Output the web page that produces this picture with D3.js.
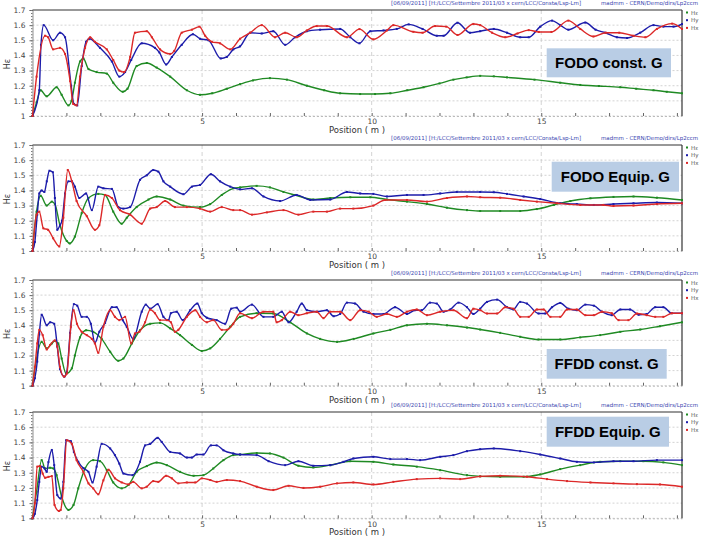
<!DOCTYPE html>
<html><head><meta charset="utf-8">
<script src="https://cdn.jsdelivr.net/npm/d3@7"></script>
<style>body{margin:0;background:#fff}svg{display:block}</style>
</head><body>
<svg id="c" width="720" height="540"></svg>
<script>
// ---------- data ----------
const panelTitles = ["FODO const. G", "FODO Equip. G", "FFDD const. G", "FFDD Equip. G"];
const yTicks = [1, 1.1, 1.2, 1.3, 1.4, 1.5, 1.6, 1.7];
const xLabelTicks = [5, 10, 15];
const seriesNames = ["Hε", "Hy", "Hx"];   // green, blue, red
const headerLeft = "[06/09/2011] [H:/LCC/Settembre 2011/03 x cern/LCC/Consta/Lsp-Lm]";
const headerRight = "madmm - CERN/Demo/dirs/Lp2ccm";

const fodoConstBlue = [[0,1.0],[0.2,1.17],[0.25,1.47],[0.33,1.60],[0.61,1.50],[0.81,1.55],[0.96,1.52],[1.14,1.20],[1.22,1.08],[1.32,1.07],[1.45,1.33],[1.58,1.49],[1.68,1.51],[1.99,1.45],[2.34,1.36],[2.56,1.26],[2.73,1.29],[2.91,1.37],[3.22,1.48],[3.61,1.45],[3.74,1.42],[3.94,1.34],[4.11,1.39],[4.40,1.47],[4.73,1.54],[4.94,1.51],[5.19,1.50],[5.55,1.38],[5.73,1.39],[5.92,1.44],[6.12,1.46],[6.42,1.55],[6.76,1.545],[7.1,1.56],[7.45,1.47],[7.74,1.52],[8.09,1.56],[8.48,1.57],[9.07,1.575],[9.37,1.52],[9.64,1.48],[9.96,1.56],[10.35,1.565],[10.74,1.575],[11.09,1.605],[11.5,1.575],[11.92,1.53],[12.12,1.53],[12.53,1.616],[12.9,1.55],[13.2,1.56],[13.6,1.575],[13.99,1.55],[14.38,1.52],[14.63,1.52],[14.97,1.59],[15.32,1.63],[15.56,1.60],[15.8,1.57],[16.3,1.617],[16.6,1.57],[16.89,1.55],[17.23,1.52],[17.53,1.515],[17.92,1.55],[18.31,1.60],[18.6,1.59],[18.9,1.59],[19.15,1.607]];
const fodoConstRed = [[0,1.0],[0.12,1.26],[0.37,1.53],[0.46,1.52],[0.61,1.44],[0.81,1.45],[0.96,1.41],[1.11,1.23],[1.2,1.08],[1.3,1.07],[1.4,1.26],[1.55,1.45],[1.7,1.52],[1.84,1.49],[2.19,1.44],[2.38,1.37],[2.56,1.30],[2.7,1.29],[2.88,1.39],[3.02,1.55],[3.37,1.56],[3.52,1.52],[3.76,1.44],[4.06,1.41],[4.18,1.43],[4.40,1.55],[4.70,1.57],[4.92,1.59],[5.09,1.53],[5.29,1.49],[5.53,1.48],[5.83,1.44],[6.12,1.51],[6.42,1.55],[6.76,1.60],[7.15,1.52],[7.45,1.55],[7.79,1.52],[8.09,1.565],[8.38,1.594],[8.68,1.594],[9.27,1.52],[9.64,1.574],[10.05,1.506],[10.45,1.565],[10.64,1.60],[11.23,1.556],[11.5,1.55],[11.87,1.594],[12.2,1.59],[12.53,1.535],[13.0,1.608],[13.2,1.60],[13.55,1.55],[13.94,1.52],[14.3,1.545],[14.63,1.567],[14.93,1.555],[15.3,1.555],[15.8,1.63],[16.15,1.575],[16.54,1.525],[16.9,1.55],[17.3,1.55],[17.72,1.53],[18.07,1.52],[18.41,1.575],[18.86,1.61],[19.15,1.575]];
const fodoConstGreen = [[0,1.0],[0.12,1.09],[0.24,1.17],[0.42,1.13],[0.71,1.19],[0.86,1.14],[1.06,1.07],[1.15,1.10],[1.25,1.22],[1.40,1.36],[1.50,1.38],[1.65,1.31],[1.89,1.29],[2.19,1.28],[2.38,1.22],[2.66,1.16],[2.8,1.18],[3.07,1.33],[3.37,1.35],[3.66,1.32],[4.06,1.26],[4.55,1.17],[4.94,1.14],[5.3,1.15],[5.73,1.18],[6.12,1.21],[6.5,1.235],[7.0,1.25],[7.5,1.24],[8.09,1.20],[8.6,1.17],[9.07,1.15],[9.66,1.145],[10.1,1.145],[10.55,1.15],[11.05,1.17],[11.53,1.19],[12.0,1.215],[12.41,1.24],[12.8,1.255],[13.2,1.265],[13.6,1.262],[13.99,1.255],[14.8,1.24],[15.56,1.22],[16.15,1.205],[16.7,1.198],[17.33,1.19],[17.8,1.18],[18.31,1.17],[18.7,1.16],[19.15,1.15]];

const fodoEquipBlue = [[0,1.0],[0.07,1.06],[0.14,1.24],[0.2,1.38],[0.27,1.40],[0.35,1.39],[0.42,1.46],[0.5,1.53],[0.6,1.52],[0.66,1.35],[0.73,1.14],[0.81,1.17],[0.87,1.20],[0.96,1.38],[1.06,1.46],[1.16,1.46],[1.25,1.425],[1.38,1.35],[1.58,1.38],[1.75,1.27],[1.94,1.425],[2.09,1.414],[2.34,1.41],[2.53,1.29],[2.68,1.28],[2.88,1.29],[3.17,1.47],[3.37,1.50],[3.56,1.535],[3.71,1.524],[3.86,1.46],[4.06,1.425],[4.45,1.375],[4.70,1.425],[4.94,1.436],[5.26,1.507],[5.53,1.46],[5.83,1.425],[6.12,1.407],[6.47,1.414],[6.81,1.36],[7.3,1.33],[7.79,1.37],[8.19,1.337],[8.78,1.34],[9.27,1.39],[9.66,1.38],[10.05,1.377],[10.45,1.36],[11.04,1.37],[11.53,1.37],[12.02,1.38],[12.51,1.39],[13.2,1.39],[13.6,1.388],[13.99,1.377],[14.48,1.36],[14.97,1.343],[15.56,1.315],[16.05,1.31],[16.55,1.304],[17.13,1.31],[17.72,1.315],[18.41,1.32],[19.15,1.315]];
const fodoEquipRed = [[0,1.0],[0.12,1.24],[0.2,1.26],[0.32,1.15],[0.46,1.14],[0.61,1.084],[0.79,1.03],[0.91,1.22],[1.04,1.535],[1.16,1.46],[1.30,1.33],[1.6,1.23],[1.84,1.14],[1.97,1.17],[2.14,1.37],[2.34,1.35],[2.58,1.27],[2.88,1.24],[3.22,1.18],[3.47,1.28],[3.66,1.29],[3.91,1.33],[4.2,1.29],[4.55,1.29],[4.94,1.28],[5.24,1.26],[5.58,1.29],[5.92,1.27],[6.12,1.27],[6.47,1.24],[6.91,1.255],[7.4,1.27],[7.84,1.24],[8.28,1.26],[8.68,1.26],[9.07,1.28],[9.46,1.28],[10.05,1.30],[10.4,1.337],[11.04,1.337],[11.63,1.326],[12.22,1.35],[12.81,1.36],[13.2,1.355],[13.79,1.352],[14.38,1.337],[14.87,1.326],[15.46,1.315],[16.15,1.304],[16.83,1.304],[17.13,1.297],[17.72,1.30],[18.41,1.31],[19.15,1.315]];
const fodoEquipGreen = [[0,1.0],[0.12,1.26],[0.24,1.365],[0.42,1.30],[0.57,1.326],[0.66,1.31],[0.81,1.17],[1.01,1.066],[1.1,1.05],[1.25,1.095],[1.45,1.25],[1.65,1.35],[1.94,1.377],[2.14,1.37],[2.38,1.26],[2.63,1.18],[2.78,1.22],[3.07,1.29],[3.42,1.34],[3.66,1.36],[4.06,1.34],[4.45,1.30],[4.94,1.29],[5.24,1.31],[5.58,1.37],[5.92,1.414],[6.12,1.42],[6.61,1.43],[7.0,1.42],[7.4,1.39],[7.74,1.37],[8.28,1.34],[8.78,1.35],[9.37,1.355],[9.96,1.355],[10.45,1.34],[11.04,1.326],[11.63,1.31],[12.22,1.286],[12.81,1.27],[13.2,1.264],[13.79,1.264],[14.38,1.264],[14.87,1.277],[15.37,1.304],[15.86,1.33],[16.45,1.348],[17.13,1.357],[17.72,1.36],[18.41,1.352],[19.15,1.337]];

const ffddConstBlue = [[0,1.0],[0.07,1.05],[0.14,1.16],[0.2,1.34],[0.27,1.47],[0.42,1.40],[0.52,1.42],[0.64,1.41],[0.73,1.26],[0.81,1.11],[0.94,1.06],[1.01,1.09],[1.11,1.35],[1.22,1.54],[1.32,1.53],[1.45,1.456],[1.6,1.456],[1.72,1.41],[1.84,1.284],[1.97,1.357],[2.14,1.416],[2.34,1.52],[2.48,1.52],[2.66,1.434],[2.78,1.39],[2.97,1.31],[3.22,1.49],[3.34,1.537],[3.47,1.51],[3.69,1.54],[3.86,1.456],[4.01,1.434],[4.08,1.48],[4.25,1.49],[4.43,1.434],[4.65,1.50],[4.86,1.544],[4.99,1.48],[5.14,1.45],[5.43,1.434],[5.68,1.41],[5.86,1.51],[6.02,1.517],[6.12,1.49],[6.47,1.537],[6.81,1.456],[7.1,1.456],[7.35,1.49],[7.55,1.42],[7.79,1.49],[7.94,1.544],[8.09,1.50],[8.38,1.49],[8.68,1.50],[8.88,1.46],[9.07,1.475],[9.27,1.55],[9.51,1.544],[9.76,1.49],[10.05,1.475],[10.35,1.475],[10.69,1.52],[11.04,1.475],[11.28,1.50],[11.48,1.50],[11.72,1.55],[11.92,1.544],[12.12,1.49],[12.32,1.505],[12.56,1.55],[12.81,1.52],[13.0,1.475],[13.2,1.51],[13.4,1.555],[13.7,1.57],[13.99,1.52],[14.18,1.505],[14.38,1.555],[14.58,1.544],[14.92,1.478],[15.12,1.478],[15.32,1.52],[15.56,1.548],[15.8,1.51],[16.05,1.50],[16.3,1.537],[16.55,1.53],[16.79,1.49],[17.08,1.467],[17.33,1.505],[17.62,1.505],[17.87,1.47],[18.11,1.475],[18.36,1.52],[18.6,1.52],[18.85,1.48],[19.15,1.48]];
const ffddConstRed = [[0,1.0],[0.07,1.125],[0.14,1.28],[0.2,1.37],[0.3,1.335],[0.42,1.24],[0.52,1.27],[0.66,1.30],[0.73,1.26],[0.81,1.125],[0.93,1.06],[1.01,1.08],[1.13,1.39],[1.21,1.50],[1.31,1.41],[1.45,1.357],[1.6,1.335],[1.75,1.31],[1.84,1.28],[1.94,1.218],[2.09,1.39],[2.29,1.50],[2.43,1.456],[2.56,1.434],[2.73,1.456],[2.91,1.28],[3.02,1.346],[3.15,1.357],[3.32,1.42],[3.47,1.504],[3.61,1.48],[3.76,1.434],[3.96,1.434],[4.08,1.42],[4.2,1.357],[4.3,1.37],[4.55,1.456],[4.8,1.50],[4.94,1.456],[5.14,1.42],[5.33,1.434],[5.58,1.37],[5.73,1.37],[5.92,1.41],[6.12,1.48],[6.47,1.447],[6.81,1.49],[7.1,1.49],[7.2,1.42],[7.35,1.434],[7.6,1.49],[7.84,1.467],[8.09,1.48],[8.38,1.49],[8.58,1.447],[8.78,1.49],[9.07,1.49],[9.37,1.434],[9.66,1.50],[9.91,1.49],[10.15,1.456],[10.45,1.475],[10.74,1.456],[11.04,1.49],[11.33,1.505],[11.63,1.467],[12.02,1.49],[12.41,1.50],[12.81,1.447],[13.0,1.51],[13.2,1.50],[13.4,1.478],[13.7,1.478],[13.94,1.52],[14.18,1.51],[14.38,1.456],[14.63,1.456],[14.87,1.505],[15.07,1.505],[15.27,1.456],[15.56,1.456],[15.76,1.505],[16.05,1.505],[16.3,1.467],[16.55,1.467],[16.79,1.49],[17.08,1.48],[17.28,1.434],[17.57,1.434],[17.82,1.478],[18.11,1.467],[18.36,1.456],[18.6,1.456],[18.85,1.48],[19.15,1.48]];
const ffddConstGreen = [[0,1.0],[0.12,1.18],[0.27,1.29],[0.42,1.247],[0.57,1.28],[0.66,1.297],[0.76,1.28],[0.86,1.18],[0.99,1.08],[1.16,1.115],[1.25,1.20],[1.4,1.32],[1.58,1.367],[1.79,1.357],[2.04,1.31],[2.29,1.225],[2.53,1.165],[2.68,1.18],[2.93,1.28],[3.17,1.367],[3.47,1.41],[3.76,1.416],[4.06,1.38],[4.35,1.335],[4.7,1.27],[4.99,1.23],[5.24,1.247],[5.53,1.31],[5.83,1.39],[6.12,1.456],[6.61,1.48],[7.1,1.478],[7.6,1.42],[8.09,1.346],[8.48,1.31],[8.98,1.29],[9.47,1.31],[10.05,1.346],[10.55,1.37],[11.04,1.40],[11.63,1.41],[12.22,1.40],[12.81,1.385],[13.2,1.372],[13.79,1.35],[14.38,1.324],[14.92,1.306],[15.56,1.306],[16.15,1.32],[16.74,1.335],[17.33,1.357],[17.92,1.372],[18.5,1.394],[19.15,1.42]];

const ffddEquipBlue = [[0,1.0],[0.07,1.03],[0.14,1.12],[0.2,1.24],[0.27,1.34],[0.35,1.33],[0.42,1.306],[0.47,1.37],[0.57,1.45],[0.64,1.35],[0.73,1.153],[0.83,1.13],[0.91,1.24],[0.99,1.514],[1.13,1.508],[1.22,1.437],[1.35,1.372],[1.5,1.33],[1.65,1.306],[1.77,1.236],[1.89,1.34],[2.04,1.49],[2.29,1.46],[2.43,1.416],[2.56,1.36],[2.68,1.295],[2.95,1.284],[3.17,1.372],[3.32,1.48],[3.47,1.49],[3.69,1.53],[3.81,1.503],[4.06,1.437],[4.35,1.427],[4.55,1.40],[4.7,1.40],[4.84,1.42],[5.04,1.42],[5.26,1.48],[5.43,1.48],[5.63,1.448],[5.92,1.427],[6.12,1.42],[6.61,1.416],[6.96,1.376],[7.45,1.35],[7.84,1.376],[8.28,1.346],[8.78,1.35],[9.17,1.372],[9.46,1.394],[10.05,1.405],[10.55,1.39],[11.04,1.39],[11.43,1.383],[12.02,1.405],[12.41,1.416],[12.81,1.442],[13.2,1.455],[13.6,1.46],[14.38,1.442],[14.97,1.42],[15.56,1.394],[16.05,1.372],[16.55,1.368],[17.13,1.376],[17.72,1.376],[18.41,1.383],[19.15,1.383]];
const ffddEquipRed = [[0,1.0],[0.07,1.10],[0.14,1.34],[0.22,1.344],[0.3,1.295],[0.37,1.267],[0.47,1.273],[0.57,1.278],[0.65,1.088],[0.78,1.048],[0.83,1.055],[0.91,1.197],[1.01,1.514],[1.16,1.49],[1.3,1.383],[1.5,1.306],[1.65,1.23],[1.79,1.197],[1.94,1.158],[2.09,1.25],[2.24,1.32],[2.43,1.263],[2.63,1.236],[2.83,1.223],[2.97,1.24],[3.22,1.197],[3.37,1.208],[3.56,1.245],[3.71,1.24],[3.94,1.28],[4.11,1.263],[4.3,1.23],[4.55,1.236],[4.8,1.236],[4.99,1.263],[5.24,1.252],[5.43,1.24],[5.73,1.252],[6.12,1.245],[6.61,1.208],[7.1,1.186],[7.55,1.214],[7.99,1.20],[8.48,1.208],[8.98,1.23],[9.46,1.236],[10.05,1.223],[10.64,1.24],[11.33,1.258],[12.02,1.263],[12.61,1.258],[13.2,1.276],[13.79,1.28],[14.58,1.274],[15.17,1.258],[15.76,1.245],[16.45,1.236],[17.13,1.23],[17.82,1.225],[18.5,1.223],[19.15,1.208]];
const ffddEquipGreen = [[0,1.0],[0.12,1.175],[0.27,1.383],[0.37,1.328],[0.52,1.333],[0.62,1.328],[0.71,1.284],[0.86,1.142],[1.06,1.055],[1.21,1.088],[1.35,1.197],[1.55,1.328],[1.79,1.383],[1.99,1.376],[2.19,1.317],[2.38,1.236],[2.63,1.197],[2.83,1.219],[3.07,1.306],[3.37,1.344],[3.66,1.367],[3.96,1.35],[4.35,1.306],[4.75,1.28],[5.04,1.284],[5.33,1.328],[5.63,1.383],[5.92,1.416],[6.12,1.42],[6.61,1.43],[7.0,1.427],[7.4,1.40],[7.84,1.346],[8.28,1.335],[8.78,1.35],[9.37,1.376],[10.05,1.372],[10.64,1.354],[11.33,1.34],[12.02,1.317],[12.81,1.284],[13.2,1.276],[13.79,1.274],[14.48,1.274],[14.97,1.289],[15.56,1.324],[16.15,1.35],[16.74,1.372],[17.33,1.376],[18.01,1.376],[18.6,1.368],[19.15,1.35]];

// ---------- layout / styles ----------
const panels = [
  {top: 10,  bottom: 116,   title: panelTitles[0], series: [fodoConstGreen, fodoConstBlue, fodoConstRed], box: [546.7, 48.3, 124.3, 29]},
  {top: 145, bottom: 251,   title: panelTitles[1], series: [fodoEquipGreen, fodoEquipBlue, fodoEquipRed], box: [551.7, 161.7, 127.3, 30]},
  {top: 280, bottom: 385.7, title: panelTitles[2], series: [ffddConstGreen, ffddConstBlue, ffddConstRed], box: [546.7, 349, 120, 29.7]},
  {top: 412, bottom: 518.3, title: panelTitles[3], series: [ffddEquipGreen, ffddEquipBlue, ffddEquipRed], box: [546.7, 416.7, 122.3, 30]}
];
const colors = ["#1f8a23", "#1c1caa", "#dc2828"];
const svg = d3.select("#c");
const x = d3.scaleLinear().domain([0, 19.15]).range([32.5, 682]);
const xIntTicks = d3.range(1, 20);

panels.forEach(p => {
  const g = svg.append("g");
  const y = d3.scaleLinear().domain([1, 1.7]).range([p.bottom, p.top]);

  // header text
  g.append("text").attr("x", 391).attr("y", p.top - 5).attr("font-size", 5.5)
    .attr("font-family", "DejaVu Sans, sans-serif").attr("fill", "#3a46b0").text(headerLeft);
  g.append("text").attr("x", 601).attr("y", p.top - 5).attr("font-size", 5.5)
    .attr("font-family", "DejaVu Sans, sans-serif").attr("fill", "#3a46b0").text(headerRight);

  // horizontal grid
  g.append("g").selectAll("line").data(yTicks.slice(0, 7)).join("line")
    .attr("x1", x(0)).attr("x2", x(19.15)).attr("y1", d => y(d)).attr("y2", d => y(d))
    .attr("stroke", "#c8c8c8").attr("stroke-width", 0.8).attr("stroke-dasharray", "2,2");
  // vertical grid
  g.append("g").selectAll("line").data(xLabelTicks).join("line")
    .attr("x1", d => x(d)).attr("x2", d => x(d)).attr("y1", p.top).attr("y2", p.bottom)
    .attr("stroke", "#c8c8c8").attr("stroke-width", 0.8).attr("stroke-dasharray", "4,3");

  // y axis
  const ya = g.append("g").attr("transform", `translate(${x(0)},0)`)
    .call(d3.axisLeft(y).tickValues(yTicks).tickSize(3).tickPadding(4)
      .tickFormat(d => d === 1 ? "1" : d3.format(".1f")(d)));
  ya.selectAll("text").attr("font-size", 7.5).attr("font-family", "DejaVu Sans, sans-serif").attr("fill", "#444");
  ya.selectAll("line").attr("stroke", "#666");
  ya.select(".domain").attr("stroke", "#777").attr("stroke-width", 0.8);
  const ym = g.append("g").attr("transform", `translate(${x(0)},0)`)
    .call(d3.axisLeft(y).ticks(35).tickSize(1.5).tickFormat(""));
  ym.select(".domain").remove();
  ym.selectAll("line").attr("stroke", "#777");

  // x axis
  const xa = g.append("g").attr("transform", `translate(0,${p.bottom})`)
    .call(d3.axisBottom(x).tickValues(xIntTicks).tickSizeInner(-3).tickSizeOuter(0).tickPadding(3)
      .tickFormat(d => xLabelTicks.includes(d) ? d : ""));
  xa.select(".domain").attr("stroke", "#bbb").attr("stroke-dasharray", "2,2");
  xa.selectAll("line").attr("stroke", "#666");
  xa.selectAll("text").attr("font-size", 7.5).attr("font-family", "DejaVu Sans, sans-serif").attr("fill", "#444");
  g.append("text").attr("x", 357).attr("y", p.bottom + 17).attr("text-anchor", "middle")
    .attr("font-size", 8.5).attr("font-family", "DejaVu Sans, sans-serif").attr("fill", "#333")
    .text("Position ( m )");

  // y label
  g.append("text").attr("transform", `translate(10,${(p.top + p.bottom) / 2 + 1}) rotate(-90)`)
    .attr("text-anchor", "middle").attr("font-size", 8).attr("font-family", "DejaVu Sans, sans-serif")
    .attr("fill", "#333").text("Hε");

  // frame top & right
  g.append("line").attr("x1", x(0)).attr("x2", x(19.15)).attr("y1", p.top).attr("y2", p.top)
    .attr("stroke", "#333").attr("stroke-width", 1.2);
  g.append("line").attr("x1", x(19.15)).attr("x2", x(19.15)).attr("y1", p.top).attr("y2", p.bottom)
    .attr("stroke", "#333").attr("stroke-width", 1.2);

  // series
  const line = d3.line().x(d => x(d[0])).y(d => y(d[1])).curve(d3.curveMonotoneX);
  p.series.forEach((s, i) => {
    g.append("path").datum(s).attr("d", line).attr("fill", "none")
      .attr("stroke", colors[i]).attr("stroke-width", 1.4);
    g.append("g").selectAll("rect").data(s).join("rect")
      .attr("x", d => x(d[0]) - 1).attr("y", d => y(d[1]) - 1).attr("width", 2).attr("height", 2)
      .attr("fill", colors[i]);
  });

  // legend
  const lg = g.append("g");
  seriesNames.forEach((n, i) => {
    const ly = p.top + 2.5 + i * 7.7;
    lg.append("rect").attr("x", 686).attr("y", ly - 1).attr("width", 2).attr("height", 2).attr("fill", colors[i]);
    lg.append("text").attr("x", 691).attr("y", ly + 2).attr("font-size", 5.5)
      .attr("font-family", "DejaVu Sans, sans-serif").attr("fill", "#555").text(n);
  });

  // title box
  const [bx, by, bw, bh] = p.box;
  g.append("rect").attr("x", bx).attr("y", by).attr("width", bw).attr("height", bh).attr("fill", "#b9cde5");
  g.append("text").attr("x", bx + bw / 2).attr("y", by + bh / 2 + 5.5).attr("text-anchor", "middle")
    .attr("font-size", 15).attr("font-weight", "bold").attr("font-family", "Liberation Sans, Arial, sans-serif")
    .attr("fill", "#000").text(p.title);
});
</script>
</body></html>
